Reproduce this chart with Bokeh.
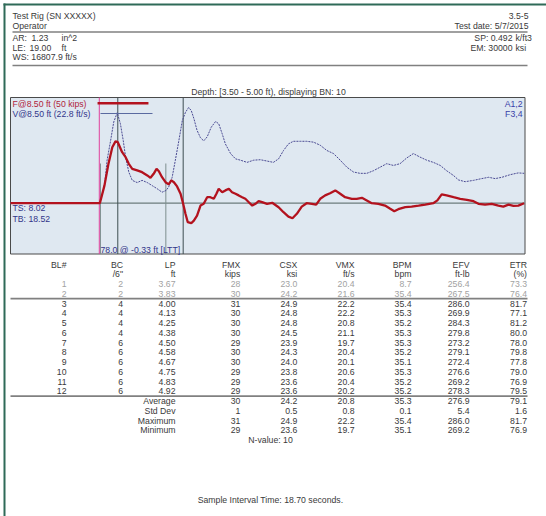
from bokeh.plotting import figure
from bokeh.models import Range1d, ColumnDataSource
from bokeh.core.properties import value
from bokeh.embed import file_html
from bokeh.resources import INLINE

# ---------------- header data ----------------
site = "Test Rig (SN XXXXX)"
operator = "Operator"
file_id = "3.5-5"
test_date = "Test date: 5/7/2015"
AR = 1.23      # in^2
LE = 19.00     # ft
WS = 16807.9   # ft/s
SP = 0.492     # k/ft3
EM = 30000     # ksi
depth_title = "Depth: [3.50 - 5.00 ft), displaying BN: 10"
f_legend = "F@8.50 ft (50 kips)"
v_legend = "V@8.50 ft (22.8 ft/s)"
ts_text = "TS: 8.02"
tb_text = "TB: 18.52"
gauge_a = "A1,2"
gauge_f = "F3,4"
ltt_text = "78.0 @ -0.33 ft [LTT]"

# ---------------- trace data (time in ms, 0 = first 2L/c marker) ----------------
force_t = [-3.71, -0.62, -0.46, -0.32, -0.19, -0.08, 0.00, 0.15, 0.27, 0.38, 0.50, 0.67, 0.84,
           1.02, 1.13, 1.24, 1.34, 1.42, 1.53, 1.65, 1.76, 1.85, 1.94, 2.05, 2.17, 2.26, 2.34,
           2.42, 2.54, 2.63, 2.74, 2.86, 2.97, 3.09, 3.20, 3.32, 3.41, 3.49, 3.61, 3.72, 3.84,
           3.95, 4.07, 4.18, 4.30, 4.41, 4.53, 4.65, 4.76, 4.87, 4.99, 5.16, 5.34, 5.56, 5.73,
           5.90, 6.04, 6.19, 6.36, 6.53, 6.71, 6.86, 7.00, 7.17, 7.34, 7.52, 7.69, 7.86, 8.09,
           8.26, 8.44, 8.61, 8.78, 9.01, 9.24, 9.42, 9.56, 9.70, 9.94, 10.16, 10.40, 10.63,
           10.91, 11.05, 11.20, 11.37, 11.61, 11.84, 12.07, 12.30, 12.47, 12.70, 12.93, 13.16,
           13.33, 13.51, 13.68, 13.85, 14.05]
force_kips = [0, 0, 8.9, 19.9, 28.0, 30.9, 30.5, 25.5, 23.0, 19.7, 17.2, 16.4, 15.5,
              13.9, 12.7, 14.7, 17.2, 16.0, 13.0, 10.5, 9.4, 11.4, 10.5, 8.4, 4.7, -0.3, -5.3,
              -9.5, -10.0, -8.7, -6.2, -1.2, -0.3, 3.0, 3.0, 2.2, 4.7, 7.2, 5.5, 6.4, 7.2,
              5.5, 4.7, 3.9, 3.0, 2.2, 0.5, -1.2, -0.3, 1.0, 0.5, -0.3, 0.2, -2.0, -4.5,
              -6.7, -7.5, -5.3, -1.7, 0, -0.3, -0.7, 2.2, 3.9, 5.0, 6.4, 4.7, 3.0, 2.2,
              2.2, 2.7, 1.4, 0, -0.3, -1.2, -2.8, -4.0, -3.0, -2.0, -1.7, -1.2, -0.7,
              0, 1.4, 4.4, 3.9, 3.0, 2.2, 1.7, 1.0, -0.3, -0.7, -0.3, -1.2,
              -1.7, -0.7, -1.3, -1.2, 0]
vel_t = [-3.71, -0.62, -0.46, -0.37, -0.25, -0.14, -0.02, 0.09, 0.19, 0.27, 0.38, 0.50, 0.67,
         0.84, 1.02, 1.19, 1.36, 1.53, 1.67, 1.76, 1.88, 1.99, 2.11, 2.23, 2.34, 2.45, 2.54,
         2.63, 2.74, 2.86, 2.97, 3.09, 3.23, 3.38, 3.49, 3.61, 3.72, 3.90, 4.07, 4.24, 4.47,
         4.70, 4.93, 5.16, 5.38, 5.56, 5.73, 5.90, 6.07, 6.31, 6.53, 6.77, 7.00, 7.23, 7.46,
         7.69, 7.92, 8.15, 8.38, 8.61, 8.84, 9.07, 9.30, 9.53, 9.76, 9.99, 10.22, 10.45,
         10.68, 10.91, 11.15, 11.37, 11.61, 11.78, 12.01, 12.30, 12.58, 12.82, 13.05, 13.28,
         13.57, 13.85, 14.05]
vel_fts = [0, 0, 4.0, 9.8, 14.2, 18.5, 20.6, 18.1, 14.2, 10.5, 7.1, 5.2, 4.7,
           5.2, 4.7, 4.0, 3.3, 2.5, 2.9, 3.7, 5.9, 9.8, 14.2, 18.8, 20.7, 21.8, 21.1,
           19.3, 16.6, 14.9, 14.2, 15.1, 17.3, 18.6, 18.1, 15.8, 13.5, 11.3, 10.1, 9.8, 9.3,
           9.8, 9.9, 9.6, 9.3, 10.1, 12.0, 13.5, 14.1, 14.1, 14.1, 13.9, 13.2, 12.0, 11.3,
           9.8, 8.2, 7.1, 6.8, 6.8, 7.4, 8.2, 9.0, 8.6, 9.0, 10.3, 11.3, 10.5,
           9.8, 9.3, 8.6, 7.4, 6.3, 5.3, 4.9, 5.2, 5.6, 5.9, 5.6, 5.9,
           6.5, 6.9, 6.8]
impact_t = -0.64        # magenta marker
gray_marker_t = -0.60   # short grey markers (this and +2L/c)
gray_marker_top = 19.85 # kips
F_LEGEND = 50           # kips

# ---------------- table data ----------------
col_names = ["BL#", "BC", "LP", "FMX", "CSX", "VMX", "BPM", "EFV", "ETR"]
col_units = ["", "/6\"", "ft", "kips", "ksi", "ft/s", "bpm", "ft-lb", "(%)"]
BL = ["1", "2", "3", "4", "5", "6", "7", "8", "9", "10", "11", "12"]
BC = ["2", "2", "4", "4", "4", "4", "6", "6", "6", "6", "6", "6"]
LP = ["3.67", "3.83", "4.00", "4.13", "4.25", "4.38", "4.50", "4.58", "4.67", "4.75", "4.83", "4.92"]
FMX = ["28", "30", "31", "30", "30", "30", "29", "30", "30", "29", "29", "29"]
CSX = ["23.0", "24.2", "24.9", "24.8", "24.8", "24.5", "23.9", "24.3", "24.0", "23.8", "23.6", "23.6"]
VMX = ["20.4", "21.6", "22.2", "22.2", "20.8", "21.1", "19.7", "20.4", "20.1", "20.6", "20.4", "20.2"]
BPM = ["8.7", "35.4", "35.4", "35.3", "35.2", "35.3", "35.3", "35.2", "35.1", "35.3", "35.2", "35.2"]
EFV = ["256.4", "267.5", "286.0", "269.9", "284.3", "279.8", "273.2", "279.1", "272.4", "276.6", "269.2", "278.3"]
ETR = ["73.3", "76.4", "81.7", "77.1", "81.2", "80.0", "78.0", "79.8", "77.8", "79.0", "76.9", "79.5"]
stat_names = ["Average", "Std Dev", "Maximum", "Minimum"]
stat_FMX = ["30", "1", "31", "29"]
stat_CSX = ["24.2", "0.5", "24.9", "23.6"]
stat_VMX = ["20.8", "0.8", "22.2", "19.7"]
stat_BPM = ["35.3", "0.1", "35.4", "35.1"]
stat_EFV = ["276.9", "5.4", "286.0", "269.2"]
stat_ETR = ["79.1", "1.6", "81.7", "76.9"]
n_value = "N-value: 10"
sample_time = "Sample Interval Time: 18.70 seconds."

# ---------------- layout (page pixels) ----------------
PX0, PX1, PY0, PY1 = 0, 546, 0, 516
CH_L, CH_R, CH_T, CH_B = 10, 524.5, 97, 253.5
T_MIN, T_MAX = -3.71, 14.08
F_MAX, F_MIN = 52.85, -25.4
FONT = value("Liberation Sans")
FS = "8.7px"
DARK = "#3a3a3a"
LIGHT = "#a2a2a2"
NAVY = "#33358a"

p = figure(width=PX1 - PX0, height=PY1 - PY0, x_range=Range1d(PX0, PX1),
           y_range=Range1d(PY1, PY0), min_border=0, toolbar_location=None,
           output_backend="svg", x_axis_location=None, y_axis_location=None)
p.grid.visible = False
p.outline_line_color = None
p.background_fill_color = "white"
p.border_fill_color = "white"

# time / force / velocity ranges mapped onto the chart area
tsc = (CH_R - CH_L) / (T_MAX - T_MIN)
fsc = (CH_B - CH_T) / (F_MAX - F_MIN)
t0 = T_MIN - (CH_L - PX0) / tsc
t1 = T_MAX + (PX1 - CH_R) / tsc
f_bot = F_MIN - (PY1 - CH_B) / fsc
f_top = F_MAX + (CH_T - PY0) / fsc
Z = EM * AR / WS  # kips per ft/s
p.extra_x_ranges = {"t": Range1d(t0, t1)}
p.extra_y_ranges = {"f": Range1d(f_bot, f_top), "v": Range1d(f_bot / Z, f_top / Z)}

def txt(x, y, s, align="left", color=DARK, size=FS):
    p.text(x=[x], y=[y], text=[s], text_font=FONT, text_font_size=size,
           text_align=align, text_baseline="middle", text_color=color)

# green page border
p.segment(x0=[4, 3], y0=[3, 4], x1=[4, PX1], y1=[PY1, 4], line_color="#2f6a58", line_width=2)

# header
txt(12, 15, site)
txt(12, 25.5, operator)
txt(528, 15, file_id, "right")
txt(528, 25.5, test_date, "right")
p.segment(x0=[12, 12], y0=[31.5, 65], x1=[527, 527], y1=[31.5, 65], line_color="#808080", line_width=1.6)
txt(12, 37, "AR:")
txt(31, 37, f"{AR:.2f}")
txt(61, 37, "in^2")
txt(12, 47, "LE:")
txt(29, 47, f"{LE:.2f}")
txt(61, 47, "ft")
txt(12, 56.5, f"WS: {WS:.1f} ft/s")
txt(512, 37, f"SP: {SP:.3f}", "right")
txt(515, 37, "k/ft3")
txt(512, 47, f"EM: {EM}", "right")
txt(515, 47, "ksi")
txt(268, 91, depth_title, "center")

# chart area
p.quad(left=[CH_L], right=[CH_R], top=[CH_T], bottom=[CH_B], fill_color="#dfe8f1",
       line_color="#4a4a4a", line_width=1)
two_l_c = 2 * LE / WS * 1000.0
p.segment(x0=[T_MIN], y0=[0], x1=[T_MAX], y1=[0], x_range_name="t", y_range_name="f",
          line_color="#6c7c7c", line_width=1.2)
p.segment(x0=[0, two_l_c], y0=[F_MIN, F_MIN], x1=[0, two_l_c], y1=[F_MAX, F_MAX],
          x_range_name="t", y_range_name="f", line_color="#3e4e52", line_width=1)
p.segment(x0=[gray_marker_t, gray_marker_t + two_l_c], y0=[F_MIN, F_MIN],
          x1=[gray_marker_t, gray_marker_t + two_l_c], y1=[gray_marker_top, gray_marker_top],
          x_range_name="t", y_range_name="f", line_color="#7e8e8e", line_width=1)
p.segment(x0=[impact_t], y0=[F_MIN], x1=[impact_t], y1=[F_MAX], x_range_name="t",
          y_range_name="f", line_color="#e0409c", line_width=1)

p.line(vel_t, vel_fts, x_range_name="t", y_range_name="v", line_color="#4a4a92",
       line_width=1, line_dash="2 1")
p.line(force_t, force_kips, x_range_name="t", y_range_name="f", line_color="#b3121e",
       line_width=2.3)

# legend
p.segment(x0=[-0.70], y0=[F_LEGEND], x1=[1.06], y1=[F_LEGEND], x_range_name="t",
          y_range_name="f", line_color="#b3121e", line_width=2.5)
p.segment(x0=[100], y0=[113], x1=[152], y1=[113], line_color="#5a6aa0", line_width=1)
txt(12, 103.3, f_legend, color="#b0243a")
txt(12, 113.3, v_legend, color=NAVY)
txt(522, 103.3, gauge_a, "right", color="#3840a8")
txt(522, 113.3, gauge_f, "right", color="#3840a8")
txt(12, 207, ts_text, color=NAVY)
txt(12, 218, tb_text, color=NAVY)
txt(100, 249.5, ltt_text, color=NAVY)

# table
col_x = [66, 122.5, 175, 239.8, 296.8, 354, 411, 469, 526.5]
Y_H1, Y_H2, Y_R1, DY = 264, 273.5, 283.5, 9.75
for cx, name, unit in zip(col_x, col_names, col_units):
    txt(cx, Y_H1, name, "right")
    if unit:
        txt(cx, Y_H2, unit, "right")

columns = [BL, BC, LP, FMX, CSX, VMX, BPM, EFV, ETR]
xs, ys, ts, cs = [], [], [], []
for i in range(len(BL)):
    for cx, col in zip(col_x, columns):
        xs.append(cx)
        ys.append(Y_R1 + DY * i)
        ts.append(col[i])
        cs.append(LIGHT if i < 2 else DARK)
stats_cols = [stat_FMX, stat_CSX, stat_VMX, stat_BPM, stat_EFV, stat_ETR]
for k, nm in enumerate(stat_names):
    y = Y_R1 + DY * (len(BL) + k)
    xs.append(col_x[2]); ys.append(y); ts.append(nm); cs.append(DARK)
    for cx, col in zip(col_x[3:], stats_cols):
        xs.append(cx); ys.append(y); ts.append(col[k]); cs.append(DARK)
src = ColumnDataSource(dict(x=xs, y=ys, text=ts, color=cs))
p.text(x="x", y="y", text="text", text_color="color", source=src, text_font=FONT,
       text_font_size=FS, text_align="right", text_baseline="middle")

line_a = Y_R1 + DY * 1.5
line_b = Y_R1 + DY * 11.5
p.segment(x0=[10, 10], y0=[line_a, line_b], x1=[527, 527], y1=[line_a, line_b],
          line_color="#808080", line_width=1.6)
txt(270, Y_R1 + DY * 16, n_value, "center")
txt(270, 499, sample_time, "center")

open("out.html", "w").write(file_html(p, INLINE))
